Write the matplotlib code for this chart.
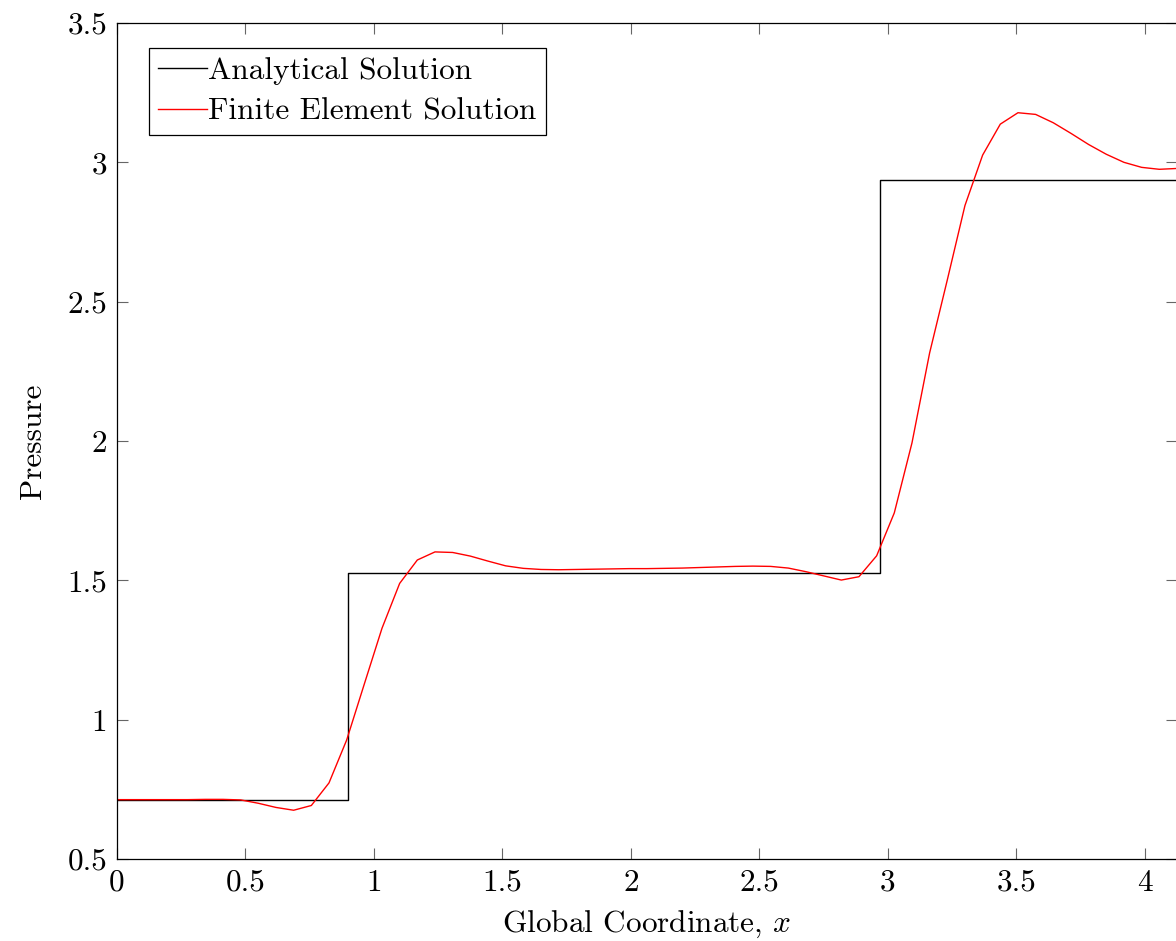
import matplotlib
matplotlib.use("Agg")
import matplotlib.pyplot as plt
from matplotlib.ticker import FuncFormatter

plt.rcParams['font.family'] = ['cmr10']
plt.rcParams['mathtext.fontset'] = 'cm'
plt.rcParams['axes.formatter.use_mathtext'] = True

# Analytical (piecewise constant) solution
analytical_edges = [0.0, 0.9, 2.968, 4.125]
analytical_values = [0.713, 1.526, 2.935]

# Finite element nodal solution
fe_x = [0.0, 0.0688, 0.1375, 0.2063, 0.275, 0.3438, 0.4125, 0.4813, 0.55, 0.6188,
        0.6875, 0.7563, 0.825, 0.8938, 0.9625, 1.0313, 1.1, 1.1688, 1.2375, 1.3063,
        1.375, 1.4438, 1.5125, 1.5813, 1.65, 1.7188, 1.7875, 1.8563, 1.925, 1.9938,
        2.0625, 2.1313, 2.2, 2.2688, 2.3375, 2.4063, 2.475, 2.5438, 2.6125, 2.6813,
        2.75, 2.8188, 2.8875, 2.9563, 3.025, 3.0938, 3.1625, 3.2313, 3.3, 3.3688,
        3.4375, 3.5063, 3.575, 3.6438, 3.7125, 3.7813, 3.85, 3.9188, 3.9875, 4.0563,
        4.125]
fe_p = [0.713, 0.713, 0.713, 0.713, 0.713, 0.714, 0.714, 0.712, 0.700, 0.685,
        0.675, 0.692, 0.773, 0.927, 1.128, 1.328, 1.489, 1.573, 1.602, 1.600,
        1.587, 1.569, 1.552, 1.543, 1.539, 1.538, 1.539, 1.540, 1.541, 1.542,
        1.542, 1.543, 1.544, 1.546, 1.548, 1.550, 1.551, 1.550, 1.544, 1.531,
        1.516, 1.501, 1.513, 1.588, 1.742, 1.993, 2.316, 2.578, 2.845, 3.026,
        3.137, 3.178, 3.172, 3.142, 3.104, 3.064, 3.029, 3.000, 2.982, 2.975,
        2.978]

xticks = [0, 0.5, 1, 1.5, 2, 2.5, 3, 3.5, 4]
yticks = [0.5, 1, 1.5, 2, 2.5, 3, 3.5]

FS = 22.5

fig = plt.figure(figsize=(11.76, 9.41), dpi=100)
ax = fig.add_axes([117/1176, 82/941, 1 - 117/1176 + 0.0008, (859-23)/941])

ax.step(analytical_edges, analytical_values + [analytical_values[-1]], where='post',
        color='black', lw=1.0, label='Analytical Solution')
ax.plot(fe_x, fe_p, color='red', lw=1.0, label='Finite Element Solution')

ax.set_xlim(0, 4.125)
ax.set_ylim(0.5, 3.5)
ax.set_xticks(xticks)
ax.set_yticks(yticks)
fmt = FuncFormatter(lambda v, p: '%g' % v)
ax.xaxis.set_major_formatter(fmt)
ax.yaxis.set_major_formatter(fmt)
ax.tick_params(direction='in', length=8, width=0.8, color='0.4',
               top=True, right=True, labelsize=FS, pad=7)
for s in ax.spines.values():
    s.set_linewidth(0.9)
    s.set_color('black')

ax.set_xlabel('Global Coordinate, $x$', fontsize=FS, labelpad=9)
ax.set_ylabel('Pressure', fontsize=FS, labelpad=15)

leg = ax.legend(loc='upper left', bbox_to_anchor=(0.03, 0.97), fontsize=FS,
                frameon=True, fancybox=False, edgecolor='black', framealpha=1,
                handlelength=1.55, handletextpad=0.06, borderpad=0.3,
                labelspacing=0.4, borderaxespad=0)
leg.get_frame().set_linewidth(0.9)

fig.savefig('out.png', dpi=100)
